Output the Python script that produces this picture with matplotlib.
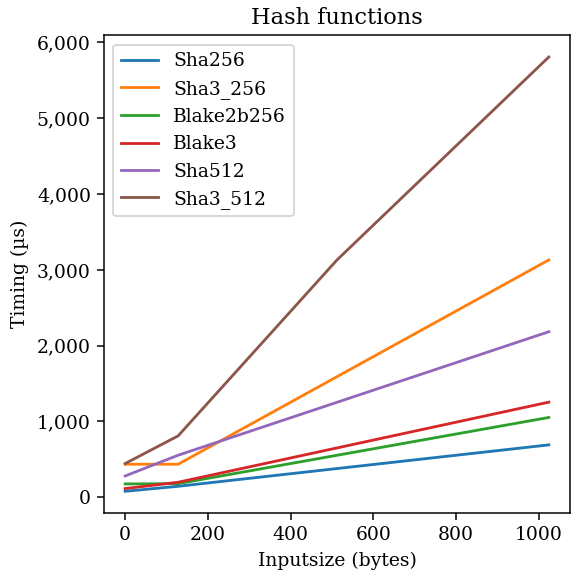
import matplotlib
matplotlib.use("Agg")
import matplotlib.pyplot as plt
from matplotlib.ticker import FuncFormatter

plt.rcParams['font.family'] = ['DejaVu Serif']
plt.rcParams['font.size'] = 10

sizes = [0, 128, 512, 1024]
sha256 = [79, 145, 379, 691]
sha3_256 = [436, 436, 1591, 3131]
blake2b256 = [176, 180, 554, 1053]
blake3 = [115, 198, 651, 1255]
sha512 = [281, 555, 1253, 2184]
sha3_512 = [445, 810, 3131, 5808]

series = [
    ("Sha256", sha256),
    ("Sha3_256", sha3_256),
    ("Blake2b256", blake2b256),
    ("Blake3", blake3),
    ("Sha512", sha512),
    ("Sha3_512", sha3_512),
]

dpi = 135
fig = plt.figure(figsize=(571 / dpi, 573 / dpi), dpi=dpi)
ax = fig.add_axes([104 / 571, 1 - 513 / 573, (570 - 104) / 571, (513 - 35.3) / 573])

for name, vals in series:
    ax.plot(sizes, vals, label=name)

ax.set_title("Hash functions")
ax.set_xlabel("Inputsize (bytes)")
ax.set_ylabel("Timing (µs)")
ax.yaxis.set_major_formatter(FuncFormatter(lambda v, p: f"{int(v):,}"))
ax.legend(loc="upper left")

fig.savefig("out.png", dpi=dpi)
